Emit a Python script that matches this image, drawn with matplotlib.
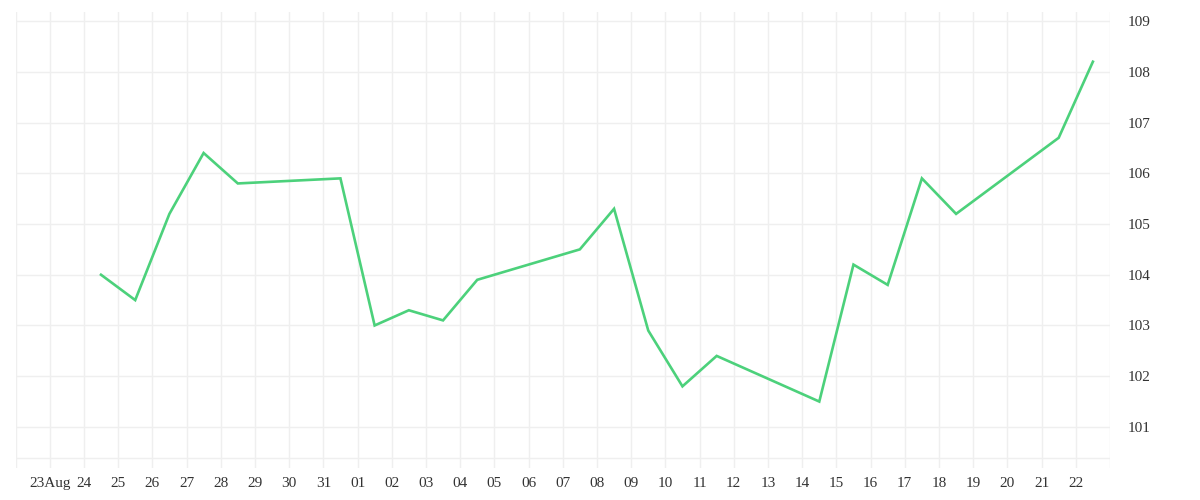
"""Daily close line, Aug 23 - Sep 22, right-hand price axis."""

import matplotlib

matplotlib.use("Agg")

import matplotlib.pyplot as plt
import pandas as pd

OUT_PNG = "out.png"

# Sessions (plotted at mid-day) and their values.
DATES = [
    "2024-08-24", "2024-08-25", "2024-08-26", "2024-08-27", "2024-08-28",
    "2024-08-31", "2024-09-01", "2024-09-02", "2024-09-03", "2024-09-04",
    "2024-09-07", "2024-09-08", "2024-09-09", "2024-09-10", "2024-09-11",
    "2024-09-14", "2024-09-15", "2024-09-16", "2024-09-17", "2024-09-18",
    "2024-09-21", "2024-09-22",
]
VALUES = [
    104.0, 103.5, 105.2, 106.4, 105.8,
    105.9, 103.0, 103.3, 103.1, 103.9,
    104.5, 105.3, 102.9, 101.8, 102.4,
    101.5, 104.2, 103.8, 105.9, 105.2,
    106.7, 108.2,
]

# Axis ticks: one grid line per day, labels from Aug 23 to Sep 22.
X_START = "2024-08-22"
X_END = "2024-09-23"
Y_TICKS = [101, 102, 103, 104, 105, 106, 107, 108, 109]

LINE_COLOR = "#4cd17b"
GRID_COLOR = "#efefef"
TEXT_COLOR = "#333333"


def main() -> None:
    plt.rcParams["font.family"] = ["Liberation Serif", "DejaVu Serif"]

    x = pd.to_datetime(DATES) + pd.Timedelta(hours=12)
    days = pd.date_range(X_START, X_END, freq="D")

    fig = plt.figure(figsize=(12, 5), dpi=100)
    ax = fig.add_axes([15.5 / 1200, 1 - 468 / 500, (1110 - 15.5) / 1200, 456 / 500])

    ax.set_xlim(days[0], days[-1])
    ax.set_ylim(100.19, 109.18)

    # grid: full-height verticals, horizontals at each integer + base line
    for d in days:
        ax.axvline(d, color=GRID_COLOR, linewidth=1.0, zorder=0)
    for v in Y_TICKS:
        ax.axhline(v, color=GRID_COLOR, linewidth=1.0, zorder=0)
    ax.axhline(100.38, color=GRID_COLOR, linewidth=1.0, zorder=0)

    ax.plot(x, VALUES, color=LINE_COLOR, linewidth=1.9, solid_joinstyle="miter", zorder=3)

    for s in ax.spines.values():
        s.set_visible(False)

    labels = []
    for d in days:
        if d == days[0] or d == days[-1]:
            labels.append("")
        elif d.day == 23 and d.month == 8:
            labels.append("23Aug")
        else:
            labels.append(f"{d.day:02d}")
    ax.set_xticks(days)
    ax.set_xticklabels(labels)
    ax.tick_params(axis="x", length=0, pad=6.5, labelsize=11, labelcolor=TEXT_COLOR)

    ax.yaxis.tick_right()
    ax.set_yticks(Y_TICKS)
    ax.set_yticklabels([str(v) for v in Y_TICKS])
    ax.tick_params(axis="y", length=0, pad=13, labelsize=11, labelcolor=TEXT_COLOR)

    fig.savefig(OUT_PNG, dpi=100, facecolor="white")
    plt.close(fig)


if __name__ == "__main__":
    main()
